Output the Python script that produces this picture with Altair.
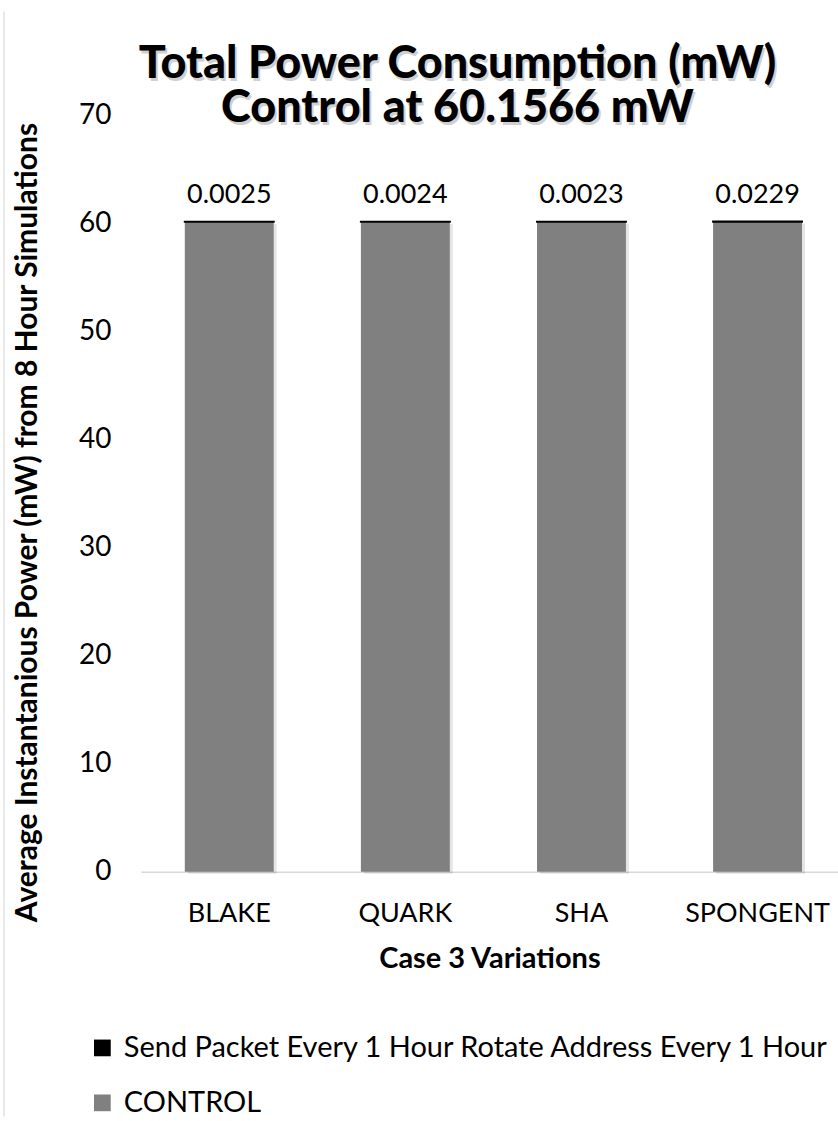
import altair as alt
import pandas as pd

# Case 3 hash variations and their average instantaneous power (mW)
variations = ["BLAKE", "QUARK", "SHA", "SPONGENT"]
control_mw = [60.1566, 60.1566, 60.1566, 60.1566]
send_packet_mw = [0.0025, 0.0024, 0.0023, 0.0229]

series_names = ["Send Packet Every 1 Hour Rotate Address Every 1 Hour", "CONTROL"]
series_colors = ["#000000", "#808080"]

title_lines = ["Total Power Consumption (mW)", "Control at 60.1566 mW"]

df = pd.DataFrame({
    "variation": variations,
    "control": control_mw,
    "extra": send_packet_mw,
})

FONT = "Lato"

x_enc = alt.X(
    "variation:N",
    sort=variations,
    scale=alt.Scale(paddingInner=0.495, paddingOuter=0.227, align=0.55),
    axis=alt.Axis(
        title="Case 3 Variations",
        titleFont=FONT, titleFontSize=29, titleFontWeight="bold", titleColor="black",
        titleBaseline="middle", titleY=87,
        labelAngle=0, labelFont=FONT, labelFontSize=27, labelColor="black",
        labelBaseline="middle", labelPadding=42,
        ticks=False, tickSize=0,
        domain=True, domainColor="#d9d9d9", domainWidth=1.5,
        grid=False,
    ),
)

y_scale = alt.Scale(domain=[0, 70], nice=False)
y_axis = alt.Axis(
    title="Average Instantanious Power (mW) from 8 Hour Simulations",
    titleFont=FONT, titleFontSize=30, titleFontWeight="bold", titleColor="black",
    titleAngle=270, titleAlign="center", titleBaseline="middle",
    titleX=-113, titleY=407,
    values=[0, 10, 20, 30, 40, 50, 60, 70],
    labelFont=FONT, labelFontSize=28, labelColor="black", labelPadding=30,
    ticks=False, tickSize=0, domain=False, grid=False,
)

color_scale = alt.Scale(domain=series_names, range=series_colors)
legend = alt.Legend(
    title=None, orient="none", legendX=-53, legendY=919, direction="vertical",
    padding=0, symbolType="square", symbolSize=280, symbolStrokeWidth=0,
    labelFont=FONT, labelFontSize=29, labelColor="black", labelLimit=1000,
    labelOffset=7, rowPadding=25,
)

base = alt.Chart(df).transform_calculate(
    total="datum.control + datum.extra",
    control_name="'CONTROL'",
    packet_name="'Send Packet Every 1 Hour Rotate Address Every 1 Hour'",
)

# soft drop shadow behind the bars
shadow = base.mark_bar(color="black", opacity=0.1, xOffset=3, yOffset=2).encode(
    x=x_enc,
    y=alt.Y("control:Q", scale=y_scale, axis=y_axis),
)

control_bars = base.mark_bar().encode(
    x=x_enc,
    y=alt.Y("control:Q", scale=y_scale, axis=y_axis),
    color=alt.Color("control_name:N", scale=color_scale, legend=legend),
)

packet_bars = base.mark_bar(stroke="black", strokeWidth=2).encode(
    x=x_enc,
    y=alt.Y("control:Q", scale=y_scale),
    y2="total:Q",
    color=alt.Color("packet_name:N", scale=color_scale, legend=legend),
)

labels = base.mark_text(
    font=FONT, fontSize=27, color="black", baseline="middle", dy=-27
).encode(
    x=x_enc,
    y=alt.Y("total:Q", scale=y_scale),
    text=alt.Text("extra:Q", format=".4f"),
)


def title_line(text, y_px):
    """One line of the chart title, drawn with a faint drop shadow."""
    src = alt.Chart(pd.DataFrame({"line": [text]}))
    style = dict(font=FONT, fontSize=45, fontWeight=900, align="center", baseline="middle")
    glow = src.mark_text(color="#666666", opacity=0.3, dx=2, dy=3, **style).encode(
        x=alt.value(317), y=alt.value(y_px), text="line:N"
    )
    main = src.mark_text(color="black", **style).encode(
        x=alt.value(317), y=alt.value(y_px), text="line:N"
    )
    return [glow, main]


title_layers = title_line(title_lines[0], -52) + title_line(title_lines[1], -8)

# thin frame line along the left edge of the chart area
edge = alt.Chart(pd.DataFrame({"edge": [0]})).mark_rule(
    color="#d0d0d0", strokeWidth=1
).encode(x=alt.value(-137), y=alt.value(-104), y2=alt.value(1002))

chart = alt.layer(
    shadow, control_bars, packet_bars, labels, *title_layers, edge
).properties(
    width=698,
    height=757,
    padding={"left": 3, "right": 0, "top": 10, "bottom": 0},
).configure_view(stroke=None)

chart.save("out.html", embed_options={"renderer": "svg", "actions": False})
